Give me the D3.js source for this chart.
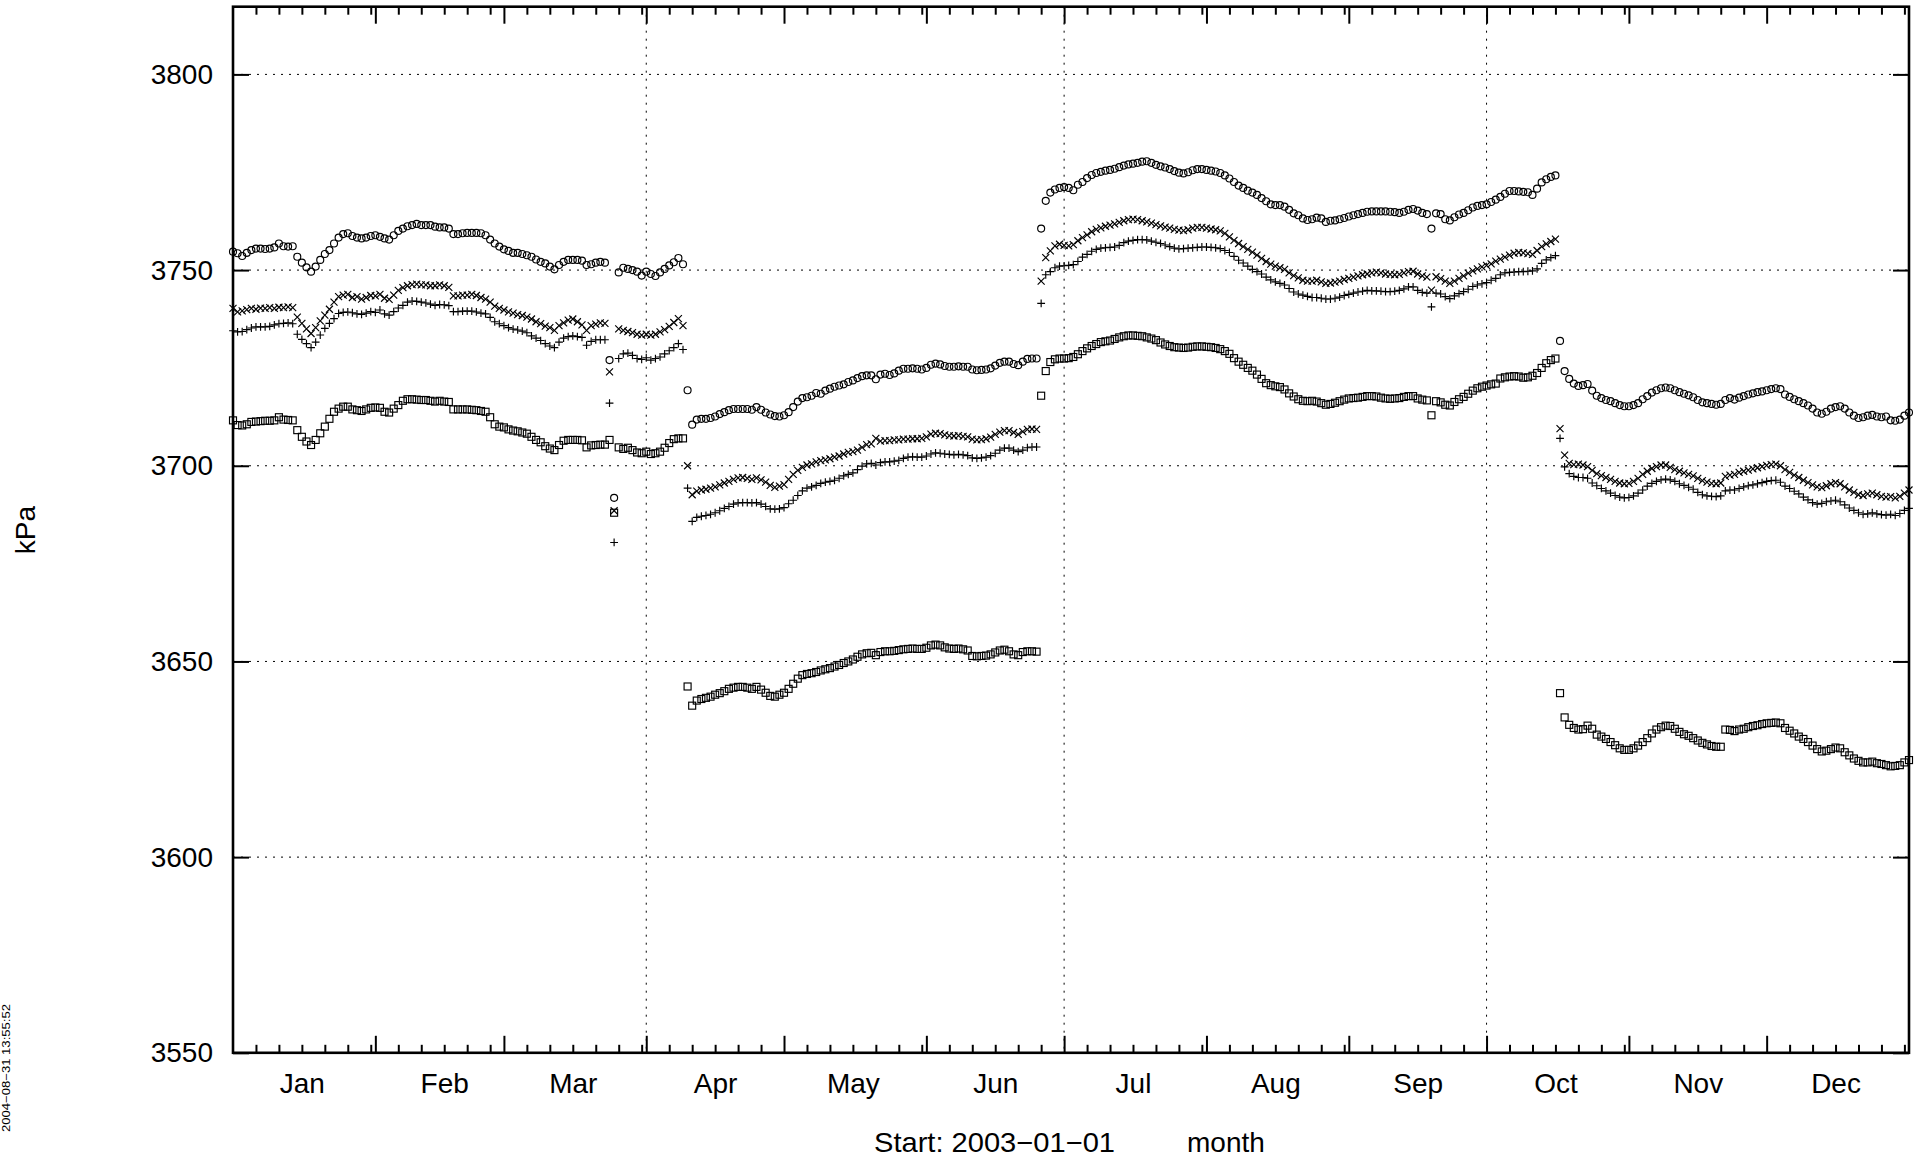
<!DOCTYPE html>
<html><head><meta charset="utf-8">
<script src="https://cdn.jsdelivr.net/npm/d3@7/dist/d3.min.js"></script>
<style>
html,body{margin:0;padding:0;background:#fff;}
svg{display:block;font-family:"Liberation Sans",Arial,Helvetica,sans-serif;}
</style></head>
<body>
<svg id="chart" width="1923" height="1165"></svg>
<script>
// ---------------- data ----------------
const startDate = "2003-01-01";
const endDate = "2004-01-01";
const monthLabels = ["Jan","Feb","Mar","Apr","May","Jun","Jul","Aug","Sep","Oct","Nov","Dec"];
const yTicks = [3550,3600,3650,3700,3750,3800];
const yGrid = [3600,3650,3700,3750,3800];
const gridMonths = [3,6,9];           // Apr, Jul, Oct (0-based)
const yLabel = "kPa";
const xLabel1 = "Start: 2003\u221201\u221201";
const xLabel2 = "month";
const stamp = "2004\u221208\u221231 13:55:52";

// daily values, one per day from 2003-01-01 to 2004-01-01
const seriesCircle = [
3754.7,3754.3,3753.6,3754.4,3755.1,3755.5,3755.5,3755.4,3755.5,3755.8,3756.8,3756.1,3756.0,3756.1,
3753.4,3751.9,3750.7,3749.6,3750.9,3752.6,3754.1,3755.1,3756.8,3758.3,3759.2,3759.4,3758.7,3758.3,
3758.1,3758.3,3758.7,3758.9,3758.5,3758.1,3757.8,3758.9,3760.0,3760.6,3761.2,3761.5,3761.8,3761.5,
3761.5,3761.5,3761.1,3760.9,3760.9,3760.6,3759.2,3759.2,3759.4,3759.5,3759.5,3759.5,3759.4,3758.9,
3757.8,3756.8,3756.0,3755.3,3754.9,3754.4,3754.4,3754.1,3753.8,3753.4,3752.7,3752.1,3751.7,3750.9,
3750.2,3751.3,3752.1,3752.6,3752.6,3752.6,3752.4,3751.3,3751.5,3751.9,3752.1,3751.9,3727.0,3691.8,
3749.4,3750.6,3750.3,3750.0,3749.6,3748.6,3749.6,3749.0,3748.5,3749.4,3750.3,3751.2,3752.0,3753.1,3751.5,
3719.3,
3710.5,3711.8,3712.0,3712.0,3712.2,3712.6,3713.2,3713.7,3714.2,3714.5,
3714.5,3714.5,3714.5,3714.3,3715.0,3714.3,3713.6,3713.1,3712.7,3712.6,
3712.9,3713.7,3715.0,3716.4,3717.3,3717.5,3717.9,3718.6,3718.4,3719.2,
3719.7,3720.2,3720.5,3720.8,3721.4,3721.8,3722.4,3722.9,3723.1,3723.1,
3722.1,3723.3,3723.5,3723.2,3723.6,3724.3,3724.8,3724.8,3724.9,3724.8,
3724.6,3725.0,3725.8,3726.1,3725.9,3725.5,3725.3,3725.3,3725.4,3725.3,
3725.3,3724.6,3724.4,3724.5,3724.6,3724.9,3725.6,3726.3,3726.6,3726.6,
3726.0,3725.7,3726.6,3727.3,3727.4,3727.4,
3760.6,
3767.7,3769.8,3770.6,3771.0,3771.2,3771.0,3770.4,3771.8,3772.5,3773.5,
3774.3,3774.8,3775.1,3775.4,3775.6,3775.9,3776.3,3776.7,3777.0,3777.2,
3777.4,3777.7,3777.8,3777.4,3776.9,3776.5,3776.2,3775.8,3775.3,3774.9,
3774.7,3775.0,3775.5,3775.8,3775.8,3775.6,3775.4,3775.2,3774.8,3774.2,
3773.4,3772.5,3771.6,3771.0,3770.3,3769.8,3769.2,3768.4,3767.6,3766.8,
3766.6,3766.6,3766.2,3765.4,3764.5,3764.0,3763.2,3762.8,3763.0,3763.4,
3763.2,3762.3,3762.6,3762.7,3763.0,3763.3,3763.7,3764.0,3764.3,3764.6,
3764.9,3765.0,3765.0,3765.0,3765.0,3764.9,3764.8,3764.6,3764.9,3765.4,
3765.6,3765.2,3764.6,3764.3,3760.6,3764.5,3764.3,3763.0,3762.7,3763.5,
3764.2,3764.6,3765.3,3766.0,3766.4,3766.6,
3766.8,3767.4,3768.0,3768.7,3769.5,3770.2,3770.2,3770.1,3770.0,3769.9,3769.2,3770.8,3772.4,3773.2,3773.8,3774.2,
3731.9,
3724.2,3722.2,3721.0,3720.4,3720.6,3720.9,3719.2,3717.9,3717.3,3716.8,
3716.5,3716.0,3715.5,3715.2,3715.2,3715.5,3716.0,3717.0,3717.8,3718.7,
3719.3,3719.8,3720.0,3719.8,3719.3,3718.8,3718.4,3718.0,3717.5,3716.8,
3716.2,3716.0,3715.8,3715.6,3715.8,3716.8,3717.3,3716.9,3717.4,3717.8,
3718.2,3718.5,3718.8,3719.0,3719.3,3719.6,3719.8,3719.6,3718.2,3717.6,
3717.0,3716.5,3716.0,3715.4,3714.6,3713.6,3713.3,3713.8,3714.6,3715.0,
3715.2,3714.6,3713.6,3712.8,3712.2,3712.4,3712.8,3713.0,3712.6,3712.4,
3712.6,3711.6,3711.5,3711.8,3712.8,3713.6
];

const seriesCross = [
3740.2,3739.3,3739.6,3739.9,3740.2,3740.0,3740.3,3740.2,3740.4,3740.2,3740.5,3740.4,3740.6,3740.4,
3738.0,3736.4,3735.0,3733.8,3735.3,3737.0,3738.5,3740.0,3741.8,3743.2,3743.6,3743.8,3743.0,3743.2,
3742.6,3743.0,3743.5,3743.4,3743.8,3742.8,3742.5,3743.6,3744.8,3745.5,3746.0,3746.3,3746.4,3746.2,
3746.2,3746.0,3746.0,3746.2,3746.0,3745.6,3743.4,3743.4,3743.6,3743.6,3743.8,3743.5,3743.0,3742.6,
3741.8,3740.8,3740.2,3739.8,3739.3,3739.0,3738.6,3738.4,3738.0,3737.5,3736.8,3736.3,3735.7,3735.3,
3734.6,3735.8,3736.5,3737.2,3737.5,3736.8,3736.0,3734.6,3735.8,3736.2,3736.5,3736.4,3724.0,3688.5,
3735.0,3734.6,3734.3,3734.0,3733.6,3733.4,3733.6,3733.4,3733.6,3734.2,3734.8,3735.6,3736.6,3737.6,3735.8,
3700.0,
3692.6,3693.5,3693.8,3694.0,3694.3,3694.6,3695.1,3695.6,3696.0,3696.5,
3696.9,3697.0,3696.8,3696.5,3696.9,3696.4,3695.8,3695.0,3694.5,3694.8,
3695.2,3696.5,3697.8,3698.8,3699.6,3700.2,3700.5,3701.0,3701.3,3701.5,
3701.8,3702.2,3702.5,3703.0,3703.4,3703.6,3704.0,3704.7,3705.4,3705.6,
3707.0,3706.3,3706.4,3706.4,3706.6,3706.6,3706.8,3706.8,3706.9,3706.9,
3707.0,3707.4,3708.1,3708.3,3708.2,3707.9,3707.7,3707.6,3707.7,3707.5,
3707.4,3706.8,3706.6,3706.7,3706.9,3707.3,3708.0,3708.6,3709.0,3709.0,
3708.5,3708.0,3708.7,3709.3,3709.4,3709.3,
3747.2,
3753.2,3754.9,3756.2,3756.6,3756.3,3756.2,3756.5,3757.5,3758.3,3759.0,
3759.8,3760.4,3760.8,3761.2,3761.5,3761.8,3762.2,3762.6,3762.9,3763.0,
3762.9,3762.6,3762.3,3762.0,3761.6,3761.3,3761.0,3760.7,3760.4,3760.2,
3760.1,3760.3,3760.7,3760.9,3760.9,3760.7,3760.5,3760.3,3760.0,3759.4,
3758.5,3757.6,3756.8,3756.0,3755.3,3754.6,3753.8,3753.0,3752.2,3751.5,
3751.0,3750.6,3750.2,3749.3,3748.6,3748.0,3747.4,3747.2,3747.2,3747.4,
3747.0,3746.6,3746.7,3746.9,3747.2,3747.6,3747.9,3748.2,3748.5,3748.8,
3749.0,3749.3,3749.5,3749.3,3749.0,3748.9,3748.8,3748.9,3749.3,3749.6,
3749.7,3749.0,3748.5,3748.2,3744.9,3748.3,3747.8,3747.2,3746.6,3747.2,
3747.9,3748.5,3749.2,3749.8,3750.3,3750.8,
3751.2,3751.6,3752.3,3752.8,3753.3,3753.8,3754.3,3754.5,3754.4,3754.2,3754.0,3755.0,3756.0,3756.7,3757.3,3757.9,
3709.5,
3702.7,3700.6,3700.3,3700.4,3700.2,3699.8,3698.8,3698.0,3697.5,3697.0,
3696.5,3696.0,3695.6,3695.4,3695.5,3696.0,3696.8,3697.8,3698.6,3699.3,
3699.8,3700.2,3700.2,3699.6,3699.0,3698.6,3698.2,3697.8,3697.4,3696.8,
3696.2,3695.8,3695.5,3695.4,3695.6,3697.3,3697.6,3697.8,3698.3,3698.6,
3698.9,3699.2,3699.5,3699.8,3700.1,3700.3,3700.4,3700.0,3699.0,3698.3,
3697.6,3697.0,3696.3,3695.7,3695.1,3694.6,3694.4,3694.9,3695.4,3695.7,
3695.4,3694.6,3693.8,3693.2,3692.6,3692.4,3692.8,3693.0,3692.6,3692.2,
3692.0,3692.1,3691.8,3692.2,3693.0,3693.8
];

const seriesPlus = [
3734.5,3734.2,3734.3,3734.8,3735.2,3735.5,3735.5,3735.5,3735.6,3736.0,3736.3,3736.4,3736.5,3736.3,
3733.6,3732.3,3731.2,3730.2,3731.6,3733.4,3735.1,3736.4,3737.6,3738.9,3739.2,3739.3,3739.1,3738.8,
3738.7,3739.0,3739.4,3739.2,3739.8,3738.8,3738.5,3739.4,3740.3,3741.0,3741.8,3742.1,3742.0,3741.8,
3741.6,3741.3,3741.0,3741.2,3741.1,3740.9,3739.4,3739.4,3739.5,3739.5,3739.5,3739.3,3739.0,3738.8,
3737.9,3736.8,3736.3,3735.8,3735.3,3734.9,3734.7,3734.4,3734.0,3733.2,3732.6,3732.0,3731.2,3730.6,
3730.2,3731.6,3732.6,3733.0,3733.2,3733.0,3732.8,3730.8,3731.8,3732.2,3732.2,3732.2,3716.0,3680.4,
3727.4,3728.6,3728.8,3728.2,3727.4,3727.2,3727.6,3727.0,3727.4,3727.8,3728.6,3729.4,3730.2,3731.2,3729.7,
3694.3,
3685.8,3686.8,3687.1,3687.3,3687.6,3688.0,3688.5,3689.1,3689.6,3690.2,
3690.5,3690.6,3690.6,3690.5,3690.6,3690.2,3689.6,3689.0,3688.9,3689.0,
3689.3,3690.3,3691.2,3692.4,3693.6,3694.3,3694.6,3695.0,3695.5,3695.8,
3696.0,3696.3,3696.8,3697.4,3697.8,3698.2,3699.0,3699.9,3700.5,3700.6,
3700.2,3700.8,3701.0,3701.0,3701.2,3701.4,3701.9,3702.2,3702.3,3702.2,
3702.2,3702.5,3703.0,3703.3,3703.2,3703.0,3702.9,3702.8,3702.9,3702.8,
3702.6,3702.0,3701.9,3702.0,3702.2,3702.6,3703.2,3704.0,3704.5,3704.5,
3704.0,3703.6,3704.0,3704.6,3704.8,3704.8,
3741.5,
3748.8,3749.6,3750.6,3751.0,3751.1,3751.2,3751.4,3752.2,3753.3,3754.0,
3754.8,3755.3,3755.6,3755.7,3755.8,3755.9,3756.3,3757.0,3757.4,3757.6,
3757.8,3757.8,3757.7,3757.4,3757.1,3756.8,3756.4,3756.0,3755.6,3755.4,
3755.5,3755.6,3755.7,3755.8,3755.9,3755.9,3755.8,3755.7,3755.5,3755.0,
3754.5,3753.5,3752.5,3751.8,3751.0,3750.2,3749.6,3749.0,3748.2,3747.5,
3747.0,3746.6,3746.2,3745.3,3744.4,3743.9,3743.6,3743.3,3743.0,3743.0,
3742.8,3742.6,3742.6,3742.8,3743.1,3743.5,3743.8,3744.1,3744.4,3744.6,
3744.8,3744.7,3744.7,3744.6,3744.5,3744.5,3744.6,3744.8,3745.2,3745.7,
3745.7,3744.8,3744.3,3744.1,3740.6,3744.1,3743.9,3743.2,3742.7,3743.4,
3744.0,3744.5,3745.1,3745.8,3746.2,3746.5,
3746.8,3747.4,3747.9,3748.8,3749.3,3749.4,3749.5,3749.6,3749.6,3749.7,3749.8,3750.3,3751.7,3752.6,3753.2,3753.7,
3707.0,
3699.7,3698.0,3697.3,3697.0,3697.0,3696.8,3695.6,3694.9,3694.2,3693.6,
3693.0,3692.4,3692.0,3691.8,3691.9,3692.3,3693.0,3693.8,3694.8,3695.5,
3696.0,3696.4,3696.6,3696.4,3696.0,3695.4,3695.0,3694.5,3694.0,3693.2,
3692.6,3692.3,3692.2,3692.1,3692.3,3693.6,3693.8,3693.8,3694.2,3694.6,
3694.9,3695.1,3695.4,3695.7,3696.0,3696.2,3696.3,3695.8,3694.8,3694.2,
3693.5,3692.8,3692.0,3691.3,3690.6,3690.2,3690.4,3690.8,3691.0,3691.2,
3690.8,3690.0,3689.2,3688.6,3688.0,3687.6,3687.7,3688.0,3687.7,3687.5,
3687.4,3687.6,3687.3,3687.8,3688.6,3689.1
];

const seriesSquare = [
3711.6,3710.4,3710.3,3710.6,3711.2,3711.3,3711.4,3711.5,3711.5,3711.6,3712.4,3711.8,3711.7,3711.6,
3709.1,3707.4,3706.2,3705.3,3706.6,3708.3,3710.0,3712.0,3713.8,3714.6,3715.1,3715.1,3714.4,3714.2,
3714.0,3714.4,3714.8,3714.9,3714.8,3713.8,3713.6,3714.6,3715.5,3716.6,3717.0,3717.0,3716.9,3716.8,
3716.8,3716.6,3716.4,3716.6,3716.4,3716.3,3714.4,3714.4,3714.4,3714.4,3714.3,3714.2,3714.0,3713.8,
3712.4,3710.6,3710.0,3709.8,3709.3,3709.0,3708.8,3708.5,3708.2,3707.4,3706.6,3706.0,3705.0,3704.4,
3704.0,3705.3,3706.4,3706.6,3706.6,3706.6,3706.5,3704.7,3705.2,3705.3,3705.4,3705.4,3706.6,3688.0,
3704.7,3704.3,3704.6,3704.0,3703.4,3703.2,3703.6,3703.0,3703.2,3703.6,3704.6,3705.8,3706.8,3707.0,3707.0,
3643.6,
3638.7,3640.0,3640.4,3640.7,3641.0,3641.5,3641.9,3642.4,3643.0,3643.3,
3643.5,3643.5,3643.3,3643.0,3643.5,3642.8,3642.0,3641.2,3641.0,3641.5,
3642.0,3643.0,3644.3,3645.6,3646.5,3646.8,3647.0,3647.3,3647.7,3648.0,
3648.3,3648.7,3649.1,3649.6,3650.0,3650.5,3651.2,3651.8,3652.1,3652.2,
3651.6,3652.4,3652.6,3652.6,3652.7,3652.9,3653.1,3653.2,3653.3,3653.2,
3653.2,3653.5,3654.1,3654.3,3654.1,3653.6,3653.3,3653.2,3653.3,3653.1,
3652.8,3651.4,3651.3,3651.4,3651.5,3651.8,3652.3,3652.8,3653.0,3652.6,
3651.8,3651.6,3652.4,3652.6,3652.6,3652.5,
3717.9,
3724.2,3726.5,3727.2,3727.4,3727.4,3727.5,3727.8,3728.5,3729.3,3730.0,
3730.6,3731.1,3731.6,3731.8,3732.0,3732.4,3732.8,3733.1,3733.3,3733.3,
3733.2,3733.1,3732.8,3732.5,3732.1,3731.5,3731.0,3730.6,3730.3,3730.2,
3730.1,3730.2,3730.4,3730.5,3730.5,3730.4,3730.3,3730.1,3729.8,3729.3,
3728.6,3727.5,3726.6,3725.8,3725.0,3724.3,3723.3,3722.2,3721.1,3720.6,
3720.3,3720.1,3719.5,3718.5,3717.7,3717.0,3716.6,3716.5,3716.6,3716.4,
3716.0,3715.6,3715.8,3716.1,3716.5,3716.9,3717.2,3717.3,3717.4,3717.6,
3717.8,3717.8,3717.7,3717.4,3717.2,3717.1,3717.2,3717.3,3717.6,3717.8,
3717.8,3717.2,3716.9,3716.7,3712.9,3716.5,3716.2,3715.6,3715.4,3716.3,
3717.0,3717.6,3718.4,3719.2,3719.8,3720.2,
3720.5,3720.8,3721.0,3722.3,3722.6,3722.8,3722.9,3722.8,3722.5,3722.6,3723.0,3723.7,3725.0,3726.2,3727.0,3727.4,
3641.9,
3635.7,3633.8,3633.0,3632.6,3632.7,3633.6,3632.8,3631.3,3630.8,3630.2,
3629.4,3628.6,3627.8,3627.4,3627.4,3627.8,3628.5,3629.4,3630.4,3631.6,
3632.6,3633.2,3633.6,3633.5,3632.8,3632.0,3631.4,3631.0,3630.4,3629.8,
3629.2,3628.8,3628.4,3628.2,3628.2,3632.6,3632.5,3632.2,3632.6,3632.8,
3633.2,3633.5,3633.7,3634.0,3634.2,3634.3,3634.4,3634.2,3633.0,3632.3,
3631.6,3630.8,3630.2,3629.4,3628.5,3627.6,3627.0,3627.2,3627.6,3628.0,
3627.8,3626.8,3626.0,3625.2,3624.6,3624.2,3624.2,3624.4,3624.0,3623.8,
3623.5,3623.2,3623.3,3623.5,3624.2,3624.8
];

// ---------------- layout ----------------
const W = 1923, H = 1165;
const L = 233, R = 1909, T = 6.7, B = 1052.8;
const svg = d3.select("#chart");
svg.append("rect").attr("width", W).attr("height", H).attr("fill", "#fff");

const t0 = d3.utcParse("%Y-%m-%d")(startDate);
const t1 = d3.utcParse("%Y-%m-%d")(endDate);
const x = d3.scaleUtc().domain([t0, t1]).range([L, R]);
const y = d3.scaleLinear().domain([3550, 3817.3]).range([B, T]);

// grid
const grid = svg.append("g").attr("stroke", "#000").attr("stroke-width", 1)
  .attr("stroke-dasharray", "2,6").attr("fill", "none");
grid.selectAll("line.h").data(yGrid).join("line").attr("class", "h")
  .attr("x1", L).attr("x2", R).attr("y1", d => y(d)).attr("y2", d => y(d));
const gridDates = gridMonths.map(m => new Date(Date.UTC(2003, m, 1)));
grid.selectAll("line.v").data(gridDates).join("line").attr("class", "v")
  .attr("x1", d => x(d)).attr("x2", d => x(d)).attr("y1", T).attr("y2", B);

// ticks
const monthStarts = d3.utcMonth.range(t0, t1);
const minorDates = [];
monthStarts.forEach(ms => {
  const next = d3.utcMonth.offset(ms, 1);
  for (let k = 5; ; k += 5) {
    const dd = d3.utcDay.offset(ms, k);
    if (dd >= next) break;
    minorDates.push(dd);
  }
});
const midDates = monthStarts.map(ms => d3.utcDay.offset(ms, 15));

function styleAxis(g, w) {
  g.select(".domain").remove();
  g.selectAll(".tick line").attr("stroke", "#000").attr("stroke-width", w);
  g.selectAll("text").attr("fill", "#000");
}

svg.append("g").attr("transform", `translate(0,${B})`)
  .call(d3.axisBottom(x).tickValues(monthStarts.slice(1)).tickSize(-17).tickFormat(""))
  .call(g => styleAxis(g, 2));
svg.append("g").attr("transform", `translate(0,${B})`)
  .call(d3.axisBottom(x).tickValues(minorDates).tickSize(-8).tickFormat(""))
  .call(g => styleAxis(g, 2));
svg.append("g").attr("transform", `translate(0,${T})`)
  .call(d3.axisTop(x).tickValues(monthStarts.slice(1)).tickSize(-17).tickFormat(""))
  .call(g => styleAxis(g, 2));
svg.append("g").attr("transform", `translate(0,${T})`)
  .call(d3.axisTop(x).tickValues(minorDates).tickSize(-8).tickFormat(""))
  .call(g => styleAxis(g, 2));

// month labels
svg.append("g").attr("transform", `translate(0,${B})`)
  .call(d3.axisBottom(x).tickValues(midDates).tickSize(0).tickPadding(20)
    .tickFormat((d, i) => monthLabels[i]))
  .call(g => styleAxis(g, 0))
  .call(g => g.selectAll("text").attr("font-size", 28).attr("font-family", "Liberation Sans, Arial, sans-serif"));

// y axes
svg.append("g").attr("transform", `translate(${L},0)`)
  .call(d3.axisLeft(y).tickValues(yTicks).tickSize(-16).tickPadding(20).tickFormat(d3.format("d")))
  .call(g => styleAxis(g, 2))
  .call(g => g.selectAll("text").attr("font-size", 28).attr("font-family", "Liberation Sans, Arial, sans-serif"));
svg.append("g").attr("transform", `translate(${R},0)`)
  .call(d3.axisRight(y).tickValues(yTicks).tickSize(-16).tickFormat(""))
  .call(g => styleAxis(g, 2));

// points
const dayDate = i => d3.utcDay.offset(t0, i);
const pts = svg.append("g").attr("fill", "none").attr("stroke", "#000").attr("stroke-width", 1.15);

pts.append("g").selectAll("circle").data(seriesCircle).join("circle")
  .attr("cx", (d, i) => x(dayDate(i))).attr("cy", d => y(d)).attr("r", 3.5);

pts.append("g").selectAll("path").data(seriesCross).join("path")
  .attr("transform", (d, i) => `translate(${x(dayDate(i))},${y(d)})`)
  .attr("d", "M-3.5,-3.5L3.5,3.5M-3.5,3.5L3.5,-3.5");

pts.append("g").selectAll("path").data(seriesPlus).join("path")
  .attr("transform", (d, i) => `translate(${x(dayDate(i))},${y(d)})`)
  .attr("d", "M-3.9,0H3.9M0,-3.9V3.9");

pts.append("g").selectAll("rect").data(seriesSquare).join("rect")
  .attr("x", (d, i) => x(dayDate(i)) - 3.5).attr("y", d => y(d) - 3.5)
  .attr("width", 7).attr("height", 7);

// frame
svg.append("rect").attr("x", L).attr("y", T).attr("width", R - L).attr("height", B - T)
  .attr("fill", "none").attr("stroke", "#000").attr("stroke-width", 2.6);

// labels
svg.append("text").attr("transform", `translate(34.5,530) rotate(-90)`)
  .attr("text-anchor", "middle").attr("font-size", 28).text(yLabel);
svg.append("text").attr("x", 874).attr("y", 1152).attr("font-size", 28)
  .attr("textLength", 241).attr("lengthAdjust", "spacingAndGlyphs").text(xLabel1);
svg.append("text").attr("x", 1187).attr("y", 1152).attr("font-size", 28).text(xLabel2);
svg.append("text").attr("transform", `translate(10,1132) rotate(-90)`)
  .attr("font-size", 11.5).attr("textLength", 128).attr("lengthAdjust", "spacingAndGlyphs").text(stamp);
</script>
</body></html>
